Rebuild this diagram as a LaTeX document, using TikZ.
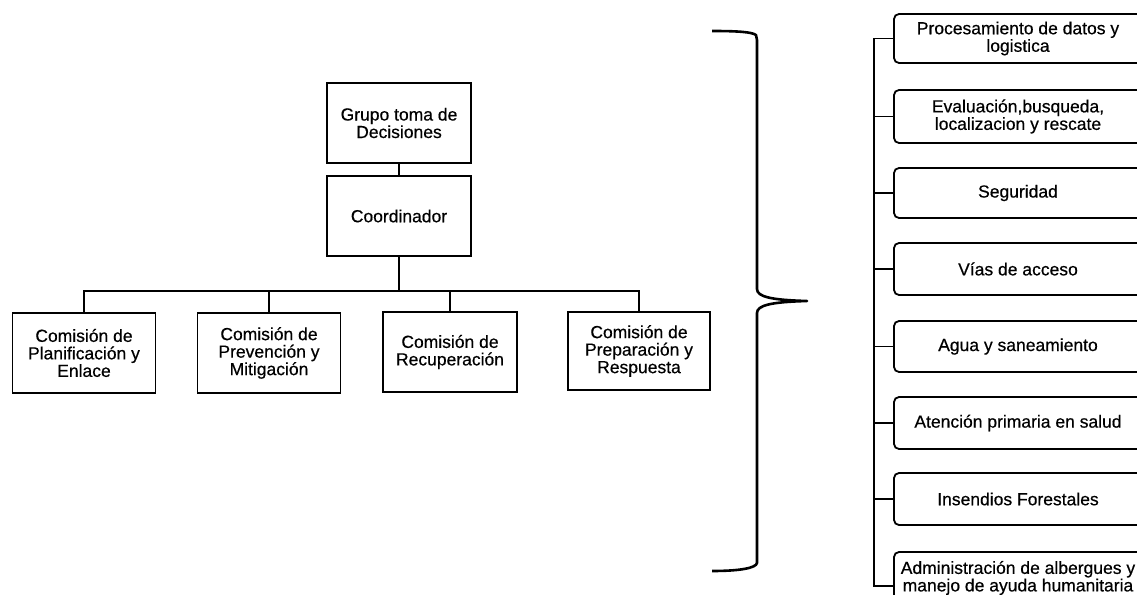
\documentclass[tikz,border=0pt]{standalone}
\usepackage{fontspec}
\setmainfont{Liberation Sans}[FakeBold=0.5]
\begin{document}
\begin{tikzpicture}[x=1pt,y=-1pt,
  box/.style={draw=black, line width=1.8pt, align=center, inner sep=2pt,
    font=\fontsize{17.5}{17.5}\selectfont},
  lbox/.style={box, minimum width=143pt, minimum height=80pt},
  rbox/.style={box, rounded corners=5pt, minimum width=248pt, minimum height=51pt},
  conn/.style={line width=1.8pt},
  bracestyle/.style={line width=2.6pt, line join=round}]
\useasboundingbox (0,0) rectangle (1137,594);
\clip (0,0) rectangle (1137,594);

% left organigram
\node[lbox, minimum height=80pt, minimum width=144pt] (grupo) at (399,123) {Grupo toma de\\Decisiones};
\node[lbox, minimum height=80pt, minimum width=144pt] (coord) at (399,216) {Coordinador};
\node[lbox] (c1) at (84,353) {Comisión de\\Planificación y\\Enlace};
\node[lbox] (c2) at (269,353) {Comisión de\\Prevención y\\Mitigación};
\node[lbox, minimum width=134pt] (c3) at (450,352) {Comisión de\\Recuperación};
\node[lbox, minimum width=142pt, minimum height=78pt] (c4) at (639,351) {Comisión de\\Preparación y\\Respuesta};
\coordinate (bus) at (0,291);

\draw[conn] (grupo) -- (coord);
\draw[conn] (coord.south) -- (coord.south |- bus);
\draw[conn] (c1.north) -- (c1.north |- bus) -- (c4.north |- bus) -- (c4.north);
\draw[conn] (c2.north) -- (c2.north |- bus);
\draw[conn] (c3.north) -- (c3.north |- bus);

% brace
\draw[bracestyle] (712,31) .. controls (738,31) and (752,32) .. (756,35)
  -- (757,40) -- (757,289)
  .. controls (757,297) and (772,300) .. (807,301)
  .. controls (772,302) and (757,305) .. (757,313)
  -- (757,563)
  .. controls (756,568) and (740,571) .. (712,571);

% right column
\node[rbox, minimum height=49pt] (r1) at (1018,38.5) {Procesamiento de datos y\\logistica};
\node[rbox, minimum height=53pt] (r2) at (1018,116.5) {Evaluación,busqueda,\\localizacion y rescate};
\node[rbox, minimum height=50pt] (r3) at (1018,193) {Seguridad};
\node[rbox, minimum height=52pt] (r4) at (1018,269) {Vías de acceso};
\node[rbox, minimum height=51pt] (r5) at (1018,346.5) {Agua y saneamiento};
\node[rbox, minimum height=52pt] (r6) at (1018,423) {Atención primaria en salud};
\node[rbox, minimum height=52pt] (r7) at (1018,499) {Insendios Forestales};
\node[rbox, minimum height=52pt, inner sep=1pt] (r8) at (1018,578) {Administración de albergues y\\manejo de ayuda humanitaria};

\coordinate (spT) at (874,38.5);
\coordinate (spB) at (874,586);
\draw[conn] (r1.west) -- (r1.west -| spT) -- (spB) -- (spB -| r8.west);
\foreach \i in {2,...,7} {\draw[conn] (r\i.west) -- (r\i.west -| spT);}
\end{tikzpicture}
\end{document}
